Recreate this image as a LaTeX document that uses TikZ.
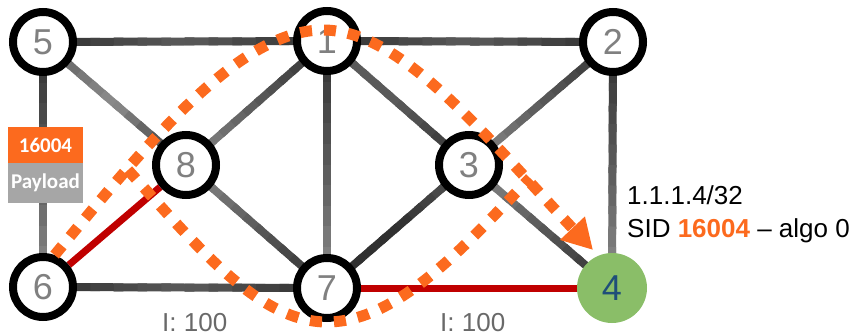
\documentclass[tikz,border=0pt]{standalone}
\usepackage{fontspec}
\setmainfont{Liberation Sans}
\newfontfamily\boxfont{Carlito}
\usetikzlibrary{calc,arrows.meta}
\pgfdeclarelayer{background}
\pgfsetlayers{background,main}
\definecolor{orng}{RGB}{252,106,30}
\definecolor{numgray}{RGB}{128,128,128}
\definecolor{lblgray}{RGB}{105,105,105}
\definecolor{redl}{RGB}{192,0,0}
\definecolor{grn}{RGB}{138,190,104}
\definecolor{bluenum}{RGB}{31,78,121}
\definecolor{paygray}{RGB}{166,166,166}
\definecolor{dk}{RGB}{48,48,48}
\definecolor{md}{RGB}{90,90,90}
\definecolor{lt}{RGB}{140,140,140}
\tikzset{
  rt/.style={circle, draw=black, line width=8pt, fill=white, minimum size=60pt,
    inner sep=0pt, font=\fontsize{36}{36}\selectfont, text=numgray},
  rtdest/.style={circle, fill=grn, minimum size=70pt, inner sep=0pt,
    font=\fontsize{36}{36}\selectfont, text=bluenum},
  edgeline/.style={line width=8pt},
  redline/.style={line width=7pt, draw=redl},
  dots/.style={draw=orng, line width=11pt, dash pattern=on 12pt off 12pt},
  lbl/.style={font=\fontsize{26}{26}\selectfont, inner sep=0pt},
  boxtxt/.style={font=\boxfont\bfseries\fontsize{21}{21}\selectfont, text=white,
    minimum width=75pt, inner sep=0pt, outer sep=0pt}
}
\newcommand\gedge[5]{%
  \foreach \i in {0,...,11}{%
    \ifnum\i<6
      \pgfmathtruncatemacro\pp{100-(\i*2+1)*100/12}%
      \colorlet{segc}{#3!\pp!#4}%
    \else
      \pgfmathtruncatemacro\pp{100-((\i-6)*2+1)*100/12}%
      \colorlet{segc}{#4!\pp!#5}%
    \fi
    \pgfmathsetmacro\ta{\i/12}%
    \pgfmathsetmacro\tb{(\i+1.4)/12}%
    \draw[edgeline, draw=segc] ($(#1)!\ta!(#2)$) -- ($(#1)!\tb!(#2)$);
  }}
\begin{document}
\begin{tikzpicture}[x=1pt, y=-1pt]
\useasboundingbox (0,0) rectangle (856,334);
% routers
\node[rt] (n5) at (43,42) {5};
\node[rt] (n1) at (327,41) {1};
\node[rt] (n2) at (613,42) {2};
\node[rt] (n8) at (186,165) {8};
\node[rt] (n3) at (469,165) {3};
\node[rt] (n6) at (43,287) {6};
\node[rt] (n7) at (327,288) {7};
\node[rtdest] (n4) at (612,288) {4};
% links
\begin{pgfonlayer}{background}
  \gedge{n5}{n1}{dk}{md}{dk}
  \gedge{n1}{n2}{dk}{md}{dk}
  \gedge{n6}{n7}{dk}{md}{dk}
  \gedge{n5}{n6}{dk}{md}{lt}
  \gedge{n5}{n8}{md}{lt}{dk}
  \gedge{n8}{n1}{lt}{md}{dk}
  \gedge{n1}{n7}{dk}{md}{lt}
  \gedge{n1}{n3}{md}{md}{dk}
  \gedge{n2}{n3}{dk}{md}{lt}
  \gedge{n2}{n4}{dk}{md}{lt}
  \gedge{n3}{n7}{md}{dk}{dk}
  \gedge{n3}{n4}{lt}{md}{dk}
  \gedge{n8}{n7}{lt}{md}{dk}
  \draw[redline] (n6) -- (n8);
  \draw[redline] (n7) -- (n4);
\end{pgfonlayer}
% label stack
\node[boxtxt, fill=orng, minimum height=36pt] (sid) at (45.5,145) {16004};
\node[boxtxt, fill=paygray, minimum height=40pt, anchor=north] (pay) at (sid.south) {Payload};
% orange SR paths
\coordinate (atip) at (593,250);
\coordinate (pb0) at (128,170);
\coordinate (pb1) at (530,178);
\draw[dots, -{Triangle[length=30pt, width=32pt]}] (n6.70) .. controls (150,140) and (240,30) .. (323,30) .. controls (400,30) and (480,130) .. (atip);
\draw[dots] (pb0) .. controls (200,250) and (260,322) .. (327,322) .. controls (400,322) and (470,240) .. (pb1);
% texts
\node[lbl, anchor=base west] (pfx) at (627,204) {1.1.1.4/32};
\node[lbl, anchor=base west] (sidtxt) at (627,237) {SID \textcolor{orng}{\bfseries 16004} -- algo 0};
\node[lbl, anchor=base west, text=lblgray] (m1) at (162,331) {I: 100};
\node[lbl, anchor=base west, text=lblgray] (m2) at (440,331) {I: 100};
\end{tikzpicture}
\end{document}
